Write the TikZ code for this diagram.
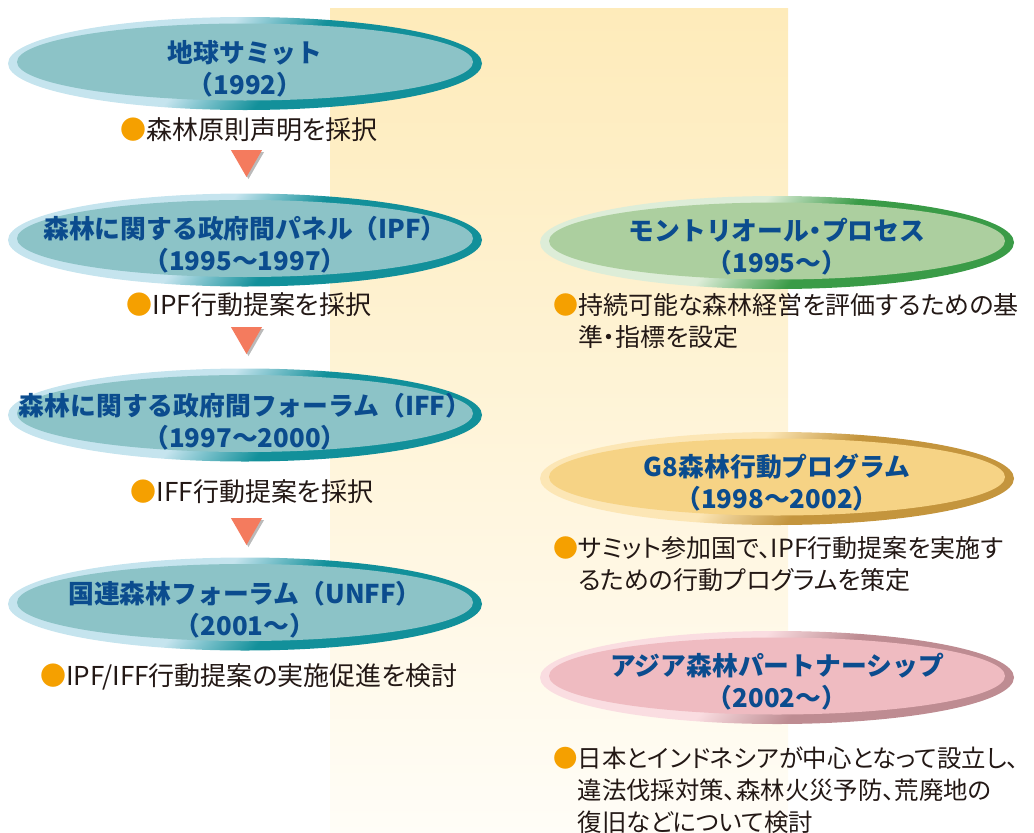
\documentclass[tikz,border=0pt]{standalone}
\usepackage{fontspec}
\setmainfont{Noto Sans CJK JP}
\newfontfamily\jpprop[CharacterWidth=AlternateProportional]{Noto Sans CJK JP}
\usepackage{tikz}
\usetikzlibrary{shapes.geometric,shadows}

\definecolor{band top}{HTML}{FEEBBA}
\definecolor{band bot}{HTML}{FFFDF7}
\definecolor{titleblue}{HTML}{0B4C8E}
\definecolor{ink}{HTML}{231815}
\definecolor{dotorange}{HTML}{F5A000}
\definecolor{tri red}{HTML}{F47B5E}
\definecolor{un fill}{HTML}{8CC3C7}
\definecolor{un light}{HTML}{C5E4EE}
\definecolor{un dark}{HTML}{12909A}
\definecolor{mp fill}{HTML}{ACCF9F}
\definecolor{mp light}{HTML}{DDEDD8}
\definecolor{mp dark}{HTML}{3A9B47}
\definecolor{g8 fill}{HTML}{F6D385}
\definecolor{g8 light}{HTML}{FCE6B5}
\definecolor{g8 dark}{HTML}{C4953D}
\definecolor{ap fill}{HTML}{EFBBC1}
\definecolor{ap light}{HTML}{FADDE1}
\definecolor{ap dark}{HTML}{BE8C92}
\colorlet{rim light}{un light}
\colorlet{rim dark}{un dark}

% sharp two-tone rim
\pgfdeclareverticalshading[rim light,rim dark]{rim}{100bp}{color(0bp)=(rim dark);
  color(44bp)=(rim dark); color(56bp)=(rim light); color(100bp)=(rim light)}

\newcommand{\bul}{{\color{dotorange}●}}
\newcommand{\nk}{{\addfontfeature{CharacterWidth=AlternateProportional}・}}

\tikzset{
  proc/.style n args={3}{ellipse, minimum width=474pt, minimum height=93pt,
    inner sep=0pt,
    /utils/exec={\colorlet{rim light}{#1}\colorlet{rim dark}{#2}},
    shading=rim, shading angle=50,
    path picture={\fill[#3] ([yshift=1.5pt]path picture bounding box.center)
      ellipse [x radius=228pt, y radius=38.5pt];}},
  unbox/.style={proc={un light}{un dark}{un fill}},
  mpbox/.style={proc={mp light}{mp dark}{mp fill}},
  g8box/.style={proc={g8 light}{g8 dark}{g8 fill}},
  apbox/.style={proc={ap light}{ap dark}{ap fill}},
  ttl/.style={inner sep=0pt, align=center, text=titleblue,
    font=\bfseries\fontsize{25.8}{32}\selectfont},
  note/.style={inner sep=0pt, text=ink, align=left,
    font=\jpprop\fontsize{26}{32}\selectfont},
  rnote/.style={note, anchor=north west, font=\jpprop\fontsize{25}{32}\selectfont},
  tri/.style={regular polygon, regular polygon sides=3, shape border rotate=180,
    minimum size=36pt, inner sep=0pt, fill=tri red,
    drop shadow={shadow xshift=2pt, shadow yshift=-2pt, opacity=.45, fill=black!60}}
}

\begin{document}
\begin{tikzpicture}[x=1pt,y=-1pt]
  \useasboundingbox (0,0) rectangle (1034,833);
  \shade[top color=band top, bottom color=band bot] (330,8) rectangle (788,833);

  % left column
  \node[unbox] (summit) at (245,63.5) {};
  \node[ttl] (summittxt) at ([yshift=-5.5pt]summit.center) {地球サミット\\（1992）};
  \node[note] (summitnote) at (249,130) {\bul 森林原則声明を採択};
  \node[tri] (t1) at (246.5,159) {};
  \node[unbox] (ipf) at (245,240) {};
  \node[ttl] (ipftxt) at ([yshift=-5pt]ipf.center) {森林に関する政府間パネル（IPF）\\（1995～1997）};
  \node[note] (ipfnote) at (249,305) {\bul IPF行動提案を採択};
  \node[tri] (t2) at (246.5,336) {};
  \node[unbox] (iff) at (245,415) {};
  \node[ttl] (ifftxt) at ([yshift=-7pt]iff.center) {森林に関する政府間フォーラム（IFF）\\（1997～2000）};
  \node[note] (iffnote) at (252,492) {\bul IFF行動提案を採択};
  \node[tri] (t3) at (246.5,527) {};
  \node[unbox] (unff) at (245,604) {};
  \node[ttl] (unfftxt) at ([yshift=-5.5pt]unff.center) {国連森林フォーラム（UNFF）\\（2001～）};
  \node[note] (unffnote) at (249,677) {\bul IPF/IFF行動提案の実施促進を検討};

  % right column
  \node[mpbox] (mp) at (777,242.5) {};
  \node[ttl] (mptxt) at ([yshift=-4pt]mp.center) {モントリオール\nk プロセス\\（1995～）};
  \node[rnote] (mpnote) at (553,293)
    {\bul 持続可能な森林経営を評価するための基\\\hphantom{●}準・指標を設定};
  \node[g8box] (g8) at (777,478.5) {};
  \node[ttl] (g8txt) at ([yshift=-4pt]g8.center) {G8森林行動プログラム\\（1998～2002）};
  \node[rnote] (g8note) at (553,536.5)
    {\bul サミット参加国で、IPF行動提案を実施す\\\hphantom{●}るための行動プログラムを策定};
  \node[apbox] (ap) at (777,677.5) {};
  \node[ttl] (aptxt) at ([yshift=-4pt]ap.center) {アジア森林パートナーシップ\\（2002～）};
  \node[rnote, font=\jpprop\fontsize{24.4}{32}\selectfont] (apnote) at (553,746.5)
    {\bul 日本とインドネシアが中心となって設立し、\\\hphantom{●}違法伐採対策、森林火災予防、荒廃地の\\\hphantom{●}復旧などについて検討};
\end{tikzpicture}
\end{document}
